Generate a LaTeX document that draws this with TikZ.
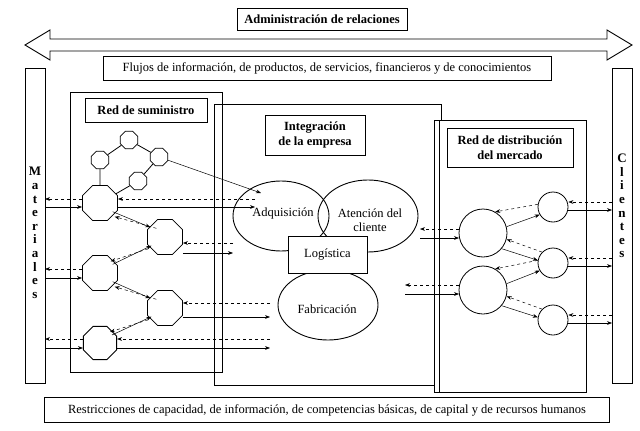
\documentclass[tikz,border=0pt]{standalone}
\usepackage{fontspec}
\setmainfont{Liberation Serif}
\usetikzlibrary{shapes.geometric,arrows.meta}
\begin{document}
\begin{tikzpicture}[x=1pt,y=-1pt,
  box/.style={draw,line width=0.9pt},
  txt/.style={font=\fontsize{12.5}{14}\selectfont},
  lbl/.style={draw,line width=0.9pt,font=\fontsize{12.5}{14.5}\selectfont\bfseries,align=center},
  oct/.style={draw,regular polygon,regular polygon sides=8,inner sep=0pt,fill=white,line width=0.8pt},
  circ/.style={draw,circle,inner sep=0pt,line width=0.8pt,fill=white},
  sol/.style={-{Stealth[length=5pt]},line width=0.5pt},
  dsh/.style={-{Stealth[length=5pt]},dashed,line width=0.5pt},
  lnk/.style={line width=0.8pt}]
\useasboundingbox (0,0) rectangle (640,431);
% top
\node[lbl,minimum width=170,minimum height=22] (adm) at (322,19) {Administración de relaciones};
\draw[line width=0.9pt] (25,45) -- (50,30) -- (50,39) -- (607,39) -- (607,30) -- (632,45) -- (607,60) -- (607,51) -- (50,51) -- (50,60) -- cycle;
\node[draw,line width=0.9pt,txt,minimum width=448,minimum height=24,fill=white] (flu) at (327,68) {Flujos de información, de productos, de servicios, financieros y de conocimientos};
% side bars
\draw[box] (25,68) rectangle (45,383);
\draw[box] (612,68) rectangle (632,383);
\node[font=\fontsize{13}{13.6}\selectfont\bfseries,align=center,inner sep=0pt] (mat) at (35,233) {M\\a\\t\\e\\r\\i\\a\\l\\e\\s};
\node[font=\fontsize{13}{13.6}\selectfont\bfseries,align=center,inner sep=0pt] (cli) at (622,206) {C\\l\\i\\e\\n\\t\\e\\s};
% bottom
\node[draw,line width=0.9pt,txt,minimum width=565,minimum height=25] (res) at (327,410) {Restricciones de capacidad, de información, de competencias básicas, de capital y de recursos humanos};
% main boxes
\draw[box] (70,92) rectangle (222,372);
\draw[box] (214,104) rectangle (441,385);
\draw[box,fill=white] (434,120) rectangle (586,392);
\draw[line width=0.9pt] (439,120) -- (439,392);
\node[lbl,minimum width=122,minimum height=24] (rs) at (146,110) {Red de suministro};
\node[lbl,minimum width=100,minimum height=40] (ie) at (315,135) {Integración\\de la empresa};
\node[lbl,minimum width=126,minimum height=39] (rd) at (510,147.5) {Red de distribución\\del mercado};
% center
\node[draw,ellipse,minimum width=96,minimum height=70,line width=0.9pt] (adq) at (281,216) {};
\node[draw,ellipse,minimum width=100,minimum height=72,line width=0.9pt] (ate) at (368,216) {};
\node[draw,ellipse,minimum width=100,minimum height=70,line width=0.9pt] (fab) at (328,305) {};
\node[txt] at (283,213) {Adquisición};
\node[txt,align=center] at (370,220) {Atención del\\cliente};
\node[txt] at (327,309) {Fabricación};
\node[draw,fill=white,line width=0.9pt,txt,minimum width=79,minimum height=37] (log) at (327.5,254.5) {Logística};
% supply network
\node[oct,minimum size=19] (s1) at (100,160) {};
\node[oct,minimum size=19] (s2) at (129,140) {};
\node[oct,minimum size=19] (s3) at (159,157) {};
\node[oct,minimum size=19] (s4) at (138,181) {};
\node[oct,minimum size=38] (b1) at (100,203) {};
\node[oct,minimum size=38] (b2) at (165,237) {};
\node[oct,minimum size=38] (b3) at (100,273) {};
\node[oct,minimum size=38] (b4) at (165,308) {};
\node[oct,minimum size=36] (b5) at (100,343) {};
\draw[lnk] (s1)--(s2) (s2)--(s3) (s3)--(s4) (s1)--(b1) (s4)--(b1);
\draw[sol] (s3) -- (261,193);
% materials flows
\draw[dsh] (b1.west|-0,199) -- (45,199);
\draw[sol] (45,207) -- (b1.west|-0,207);
\draw[dsh] (b3.west|-0,269) -- (45,269);
\draw[sol] (45,278) -- (b3.west|-0,278);
\draw[dsh] (b5.west|-0,339) -- (45,339);
\draw[sol] (45,348) -- (b5.west|-0,348);
% to center
\draw[dsh] (255,199) -- (b1.east|-0,199);
\draw[sol] (b1.east|-0,207) -- (255,207);
\draw[dsh] (233,243) -- (b2.east|-0,243);
\draw[sol] (b2.east|-0,253) -- (233,253);
\draw[dsh] (270,303) -- (b4.east|-0,303);
\draw[sol] (b4.east|-0,317) -- (270,317);
\draw[dsh] (270,339) -- (b5.east|-0,339);
\draw[sol] (b5.east|-0,348) -- (270,348);
% diagonals
\draw[sol] ([yshift=4]b1.south east) -- ([xshift=-2,yshift=-3]b2.north west);
\draw[dsh] ([xshift=4,yshift=-4]b2.north west) -- ([xshift=2,yshift=-1]b1.south east);
\draw[sol] ([yshift=-4]b3.north east) -- ([xshift=-1,yshift=4]b2.south west);
\draw[dsh] ([xshift=-4,yshift=1]b2.south west) -- ([xshift=-2,yshift=-1]b3.north east);
\draw[sol] ([yshift=4]b3.south east) -- ([xshift=-2,yshift=-3]b4.north west);
\draw[dsh] ([xshift=4,yshift=-4]b4.north west) -- ([xshift=2,yshift=-1]b3.south east);
\draw[sol] ([yshift=-4]b5.north east) -- ([xshift=-1,yshift=4]b4.south west);
\draw[dsh] ([xshift=-4,yshift=1]b4.south west) -- ([xshift=-2,yshift=-1]b5.north east);
% distribution network
\node[circ,minimum size=48] (d1) at (483,233) {};
\node[circ,minimum size=48] (d2) at (483,290) {};
\node[circ,minimum size=30] (c1) at (553,207) {};
\node[circ,minimum size=30] (c2) at (553,263) {};
\node[circ,minimum size=30] (c3) at (553,320) {};
\draw[dsh] (459,229) -- (420,229);
\draw[sol] (420,238) -- (459,238);
\draw[dsh] (459,285) -- (405,285);
\draw[sol] (405,294) -- (459,294);
\foreach \c/\y in {c1/207,c2/263,c3/320}{
  \draw[dsh] (612,\y-5) -- (\c.east|-0,\y-5);
  \draw[sol] (\c.east|-0,\y+3) -- (612,\y+3);
}
\draw[sol] (d1.15) -- (c1.210);
\draw[dsh] (c1.170) -- (d1.60);
\draw[sol] (d1.-40) -- (c2.170);
\draw[dsh] (c2.135) -- (d1.-15);
\draw[sol] (d2.15) -- (c2.210);
\draw[dsh] (c2.170) -- (d2.60);
\draw[sol] (d2.-40) -- (c3.170);
\draw[dsh] (c3.135) -- (d2.-15);
\end{tikzpicture}
\end{document}
